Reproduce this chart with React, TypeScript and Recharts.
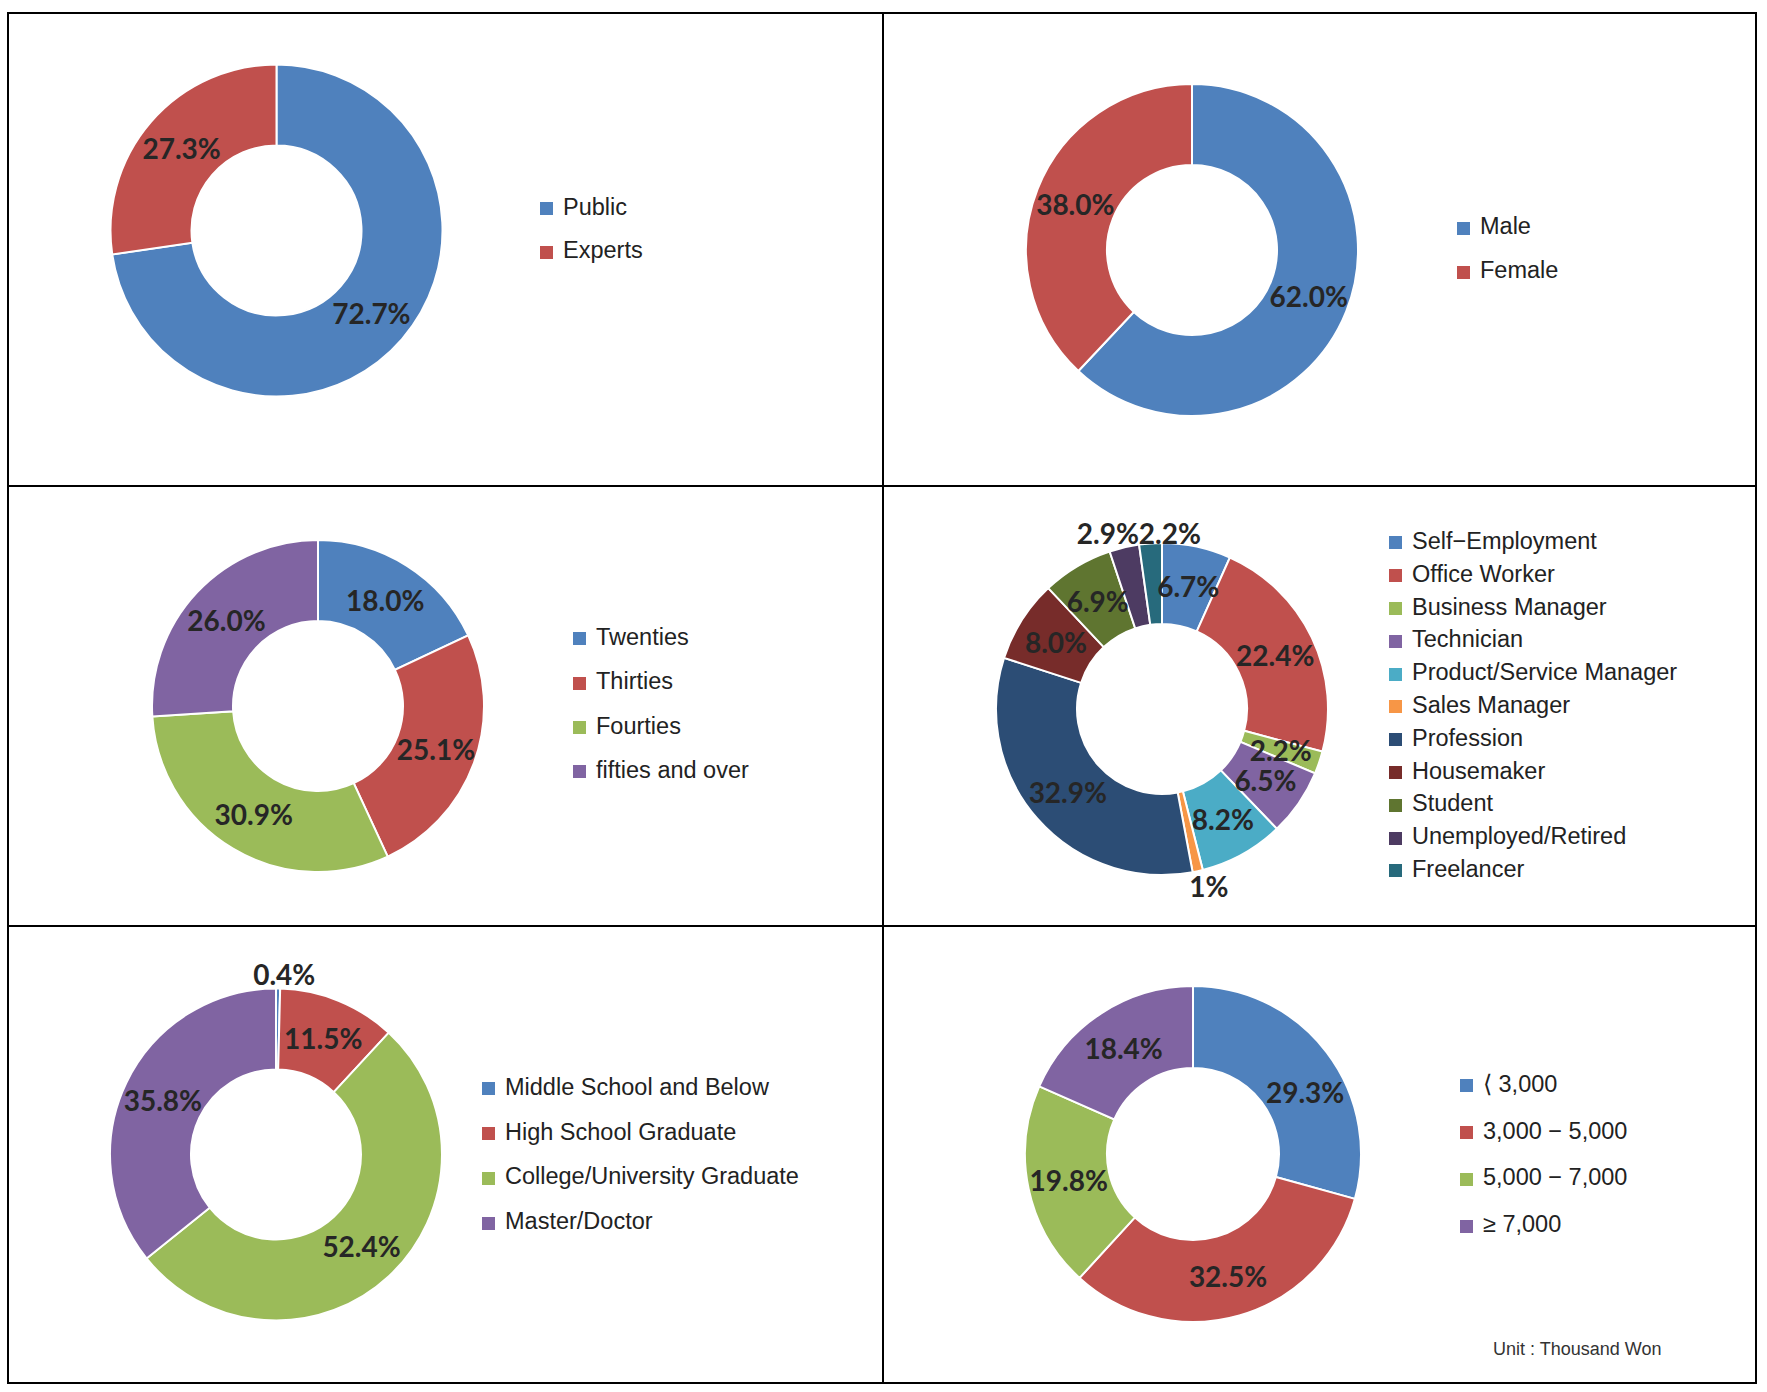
import React from "react";
import { PieChart, Pie, Cell, Legend } from "recharts";

// Office-style palette
const PALETTE = [
  "#4F81BD",
  "#C0504D",
  "#9BBB59",
  "#8064A2",
  "#4BACC6",
  "#F79646",
  "#2C4D75",
  "#772C2A",
  "#5F7530",
  "#4D3B62",
  "#276A7C",
];

const respondentNames = ["Public", "Experts"];
const respondentValues = [72.7, 27.3];

const genderNames = ["Male", "Female"];
const genderValues = [62.0, 38.0];

const ageNames = ["Twenties", "Thirties", "Fourties", "fifties and over"];
const ageValues = [18.0, 25.1, 30.9, 26.0];

const jobNames = [
  "Self\u2212Employment",
  "Office Worker",
  "Business Manager",
  "Technician",
  "Product/Service Manager",
  "Sales Manager",
  "Profession",
  "Housemaker",
  "Student",
  "Unemployed/Retired",
  "Freelancer",
];
const jobValues = [6.7, 22.4, 2.2, 6.5, 8.2, 1.0, 32.9, 8.0, 6.9, 2.9, 2.2];

const eduNames = [
  "Middle School and Below",
  "High School Graduate",
  "College/University Graduate",
  "Master/Doctor",
];
const eduValues = [0.4, 11.5, 52.4, 35.8];

const incomeNames = ["\u27E8 3,000", "3,000 \u2212 5,000", "5,000 \u2212 7,000", "\u2265 7,000"];
const incomeValues = [29.3, 32.5, 19.8, 18.4];

const RADIAN = Math.PI / 180;

type Tweak = { r?: number; dx?: number; dy?: number; text?: string };

const makeLabel = (tweaks: Record<number, Tweak>) => (props: any) => {
  const { cx, cy, midAngle, innerRadius, outerRadius, value, index } = props;
  const t = tweaks[index] || {};
  const r = t.r ?? (innerRadius + outerRadius) / 2;
  const x = cx + r * Math.cos(-midAngle * RADIAN) + (t.dx || 0);
  const y = cy + r * Math.sin(-midAngle * RADIAN) + (t.dy || 0);
  return (
    <text
      x={x}
      y={y}
      textAnchor="middle"
      dominantBaseline="central"
      fill="#262626"
      fontSize={28}
      fontWeight="bold"
      fontFamily="Lato, 'Liberation Sans', Arial, sans-serif"
    >
      {t.text ?? `${Number(value).toFixed(1)}%`}
    </text>
  );
};

type PanelProps = {
  left: number;
  top: number;
  width: number;
  height: number;
  names: string[];
  values: number[];
  cx: number;
  cy: number;
  outer?: number;
  inner?: number;
  legendX: number;
  legendY: number; // centre of first legend square (page coords)
  legendGap: number;
  tweaks?: Record<number, Tweak>;
};

const DonutPanel = ({
  left,
  top,
  width,
  height,
  names,
  values,
  cx,
  cy,
  outer = 166,
  inner = 85,
  legendX,
  legendY,
  legendGap,
  tweaks = {},
}: PanelProps) => {
  const data = names.map((name, i) => ({ name, value: values[i] }));

  const renderLegend = () => (
    <div style={{ position: "relative" }}>
      {names.map((name, i) => (
        <div key={name} style={{ position: "relative", height: legendGap, whiteSpace: "nowrap" }}>
          <span
            style={{
              position: "absolute",
              left: 0,
              top: legendGap / 2 - 6.5,
              width: 13,
              height: 13,
              background: PALETTE[i],
            }}
          />
          <span
            style={{
              position: "absolute",
              left: 23,
              top: legendGap / 2 - 13,
              fontSize: 23.5,
              lineHeight: "23px",
              color: "#222",
              fontFamily: "'Liberation Sans', Arial, sans-serif",
            }}
          >
            {name}
          </span>
        </div>
      ))}
    </div>
  );

  return (
    <div style={{ position: "absolute", left, top, width, height }}>
      <PieChart width={width} height={height} margin={{ top: 0, right: 0, bottom: 0, left: 0 }}>
        <Pie
          data={data}
          dataKey="value"
          nameKey="name"
          cx={cx - left}
          cy={cy - top}
          innerRadius={inner}
          outerRadius={outer}
          startAngle={90}
          endAngle={-270}
          stroke="#ffffff"
          strokeWidth={2}
          label={makeLabel(tweaks)}
          labelLine={false}
          isAnimationActive={false}
        >
          {data.map((entry, index) => (
            <Cell key={`cell-${index}`} fill={PALETTE[index]} />
          ))}
        </Pie>
        <Legend
          content={renderLegend}
          wrapperStyle={{
            left: legendX - left,
            top: legendY - top - legendGap / 2,
            bottom: "auto",
            width: 360,
          }}
        />
      </PieChart>
    </div>
  );
};

const App = () => {
  return (
    <div
      style={{
        position: "absolute",
        left: 0,
        top: 0,
        width: 1767,
        height: 1392,
        background: "#fff",
        fontFamily: "'Liberation Sans', Arial, sans-serif",
      }}
    >
      <DonutPanel
        left={9}
        top={14}
        width={873}
        height={471}
        names={respondentNames}
        values={respondentValues}
        cx={276.5}
        cy={230.5}
        legendX={540}
        legendY={208.5}
        legendGap={43.5}
      />
      <DonutPanel
        left={884}
        top={14}
        width={871}
        height={471}
        names={genderNames}
        values={genderValues}
        cx={1192}
        cy={250}
        legendX={1457}
        legendY={228}
        legendGap={44}
      />
      <DonutPanel
        left={9}
        top={487}
        width={873}
        height={438}
        names={ageNames}
        values={ageValues}
        cx={318}
        cy={706}
        legendX={573}
        legendY={639}
        legendGap={44.3}
      />
      <DonutPanel
        left={884}
        top={487}
        width={871}
        height={438}
        names={jobNames}
        values={jobValues}
        cx={1162}
        cy={709}
        legendX={1389}
        legendY={543}
        legendGap={32.8}
        tweaks={{
          5: { r: 181, dx: 8, text: "1%" },
          9: { r: 181, dx: -13 },
          10: { r: 176.5, dx: 20 },
        }}
      />
      <DonutPanel
        left={9}
        top={927}
        width={873}
        height={455}
        names={eduNames}
        values={eduValues}
        cx={276}
        cy={1154.5}
        legendX={482}
        legendY={1089}
        legendGap={44.7}
        tweaks={{ 0: { r: 181, dx: 6 } }}
      />
      <DonutPanel
        left={884}
        top={927}
        width={871}
        height={455}
        names={incomeNames}
        values={incomeValues}
        cx={1193}
        cy={1154}
        outer={168}
        inner={86}
        legendX={1460}
        legendY={1086}
        legendGap={46.7}
        tweaks={{ 0: { dx: 11, dy: 15 } }}
      />

      {/* grid lines */}
      <div
        style={{
          position: "absolute",
          left: 7,
          top: 12,
          width: 1750,
          height: 1372,
          border: "2px solid #000",
          boxSizing: "border-box",
          pointerEvents: "none",
        }}
      />
      <div style={{ position: "absolute", left: 882, top: 12, width: 2, height: 1372, background: "#000" }} />
      <div style={{ position: "absolute", left: 7, top: 485, width: 1750, height: 2, background: "#000" }} />
      <div style={{ position: "absolute", left: 7, top: 925, width: 1750, height: 2, background: "#000" }} />

      <div
        style={{
          position: "absolute",
          left: 1493,
          top: 1340,
          fontSize: 18,
          lineHeight: "18px",
          color: "#333",
          whiteSpace: "nowrap",
        }}
      >
        Unit : Thousand Won
      </div>
    </div>
  );
};

export default App;
